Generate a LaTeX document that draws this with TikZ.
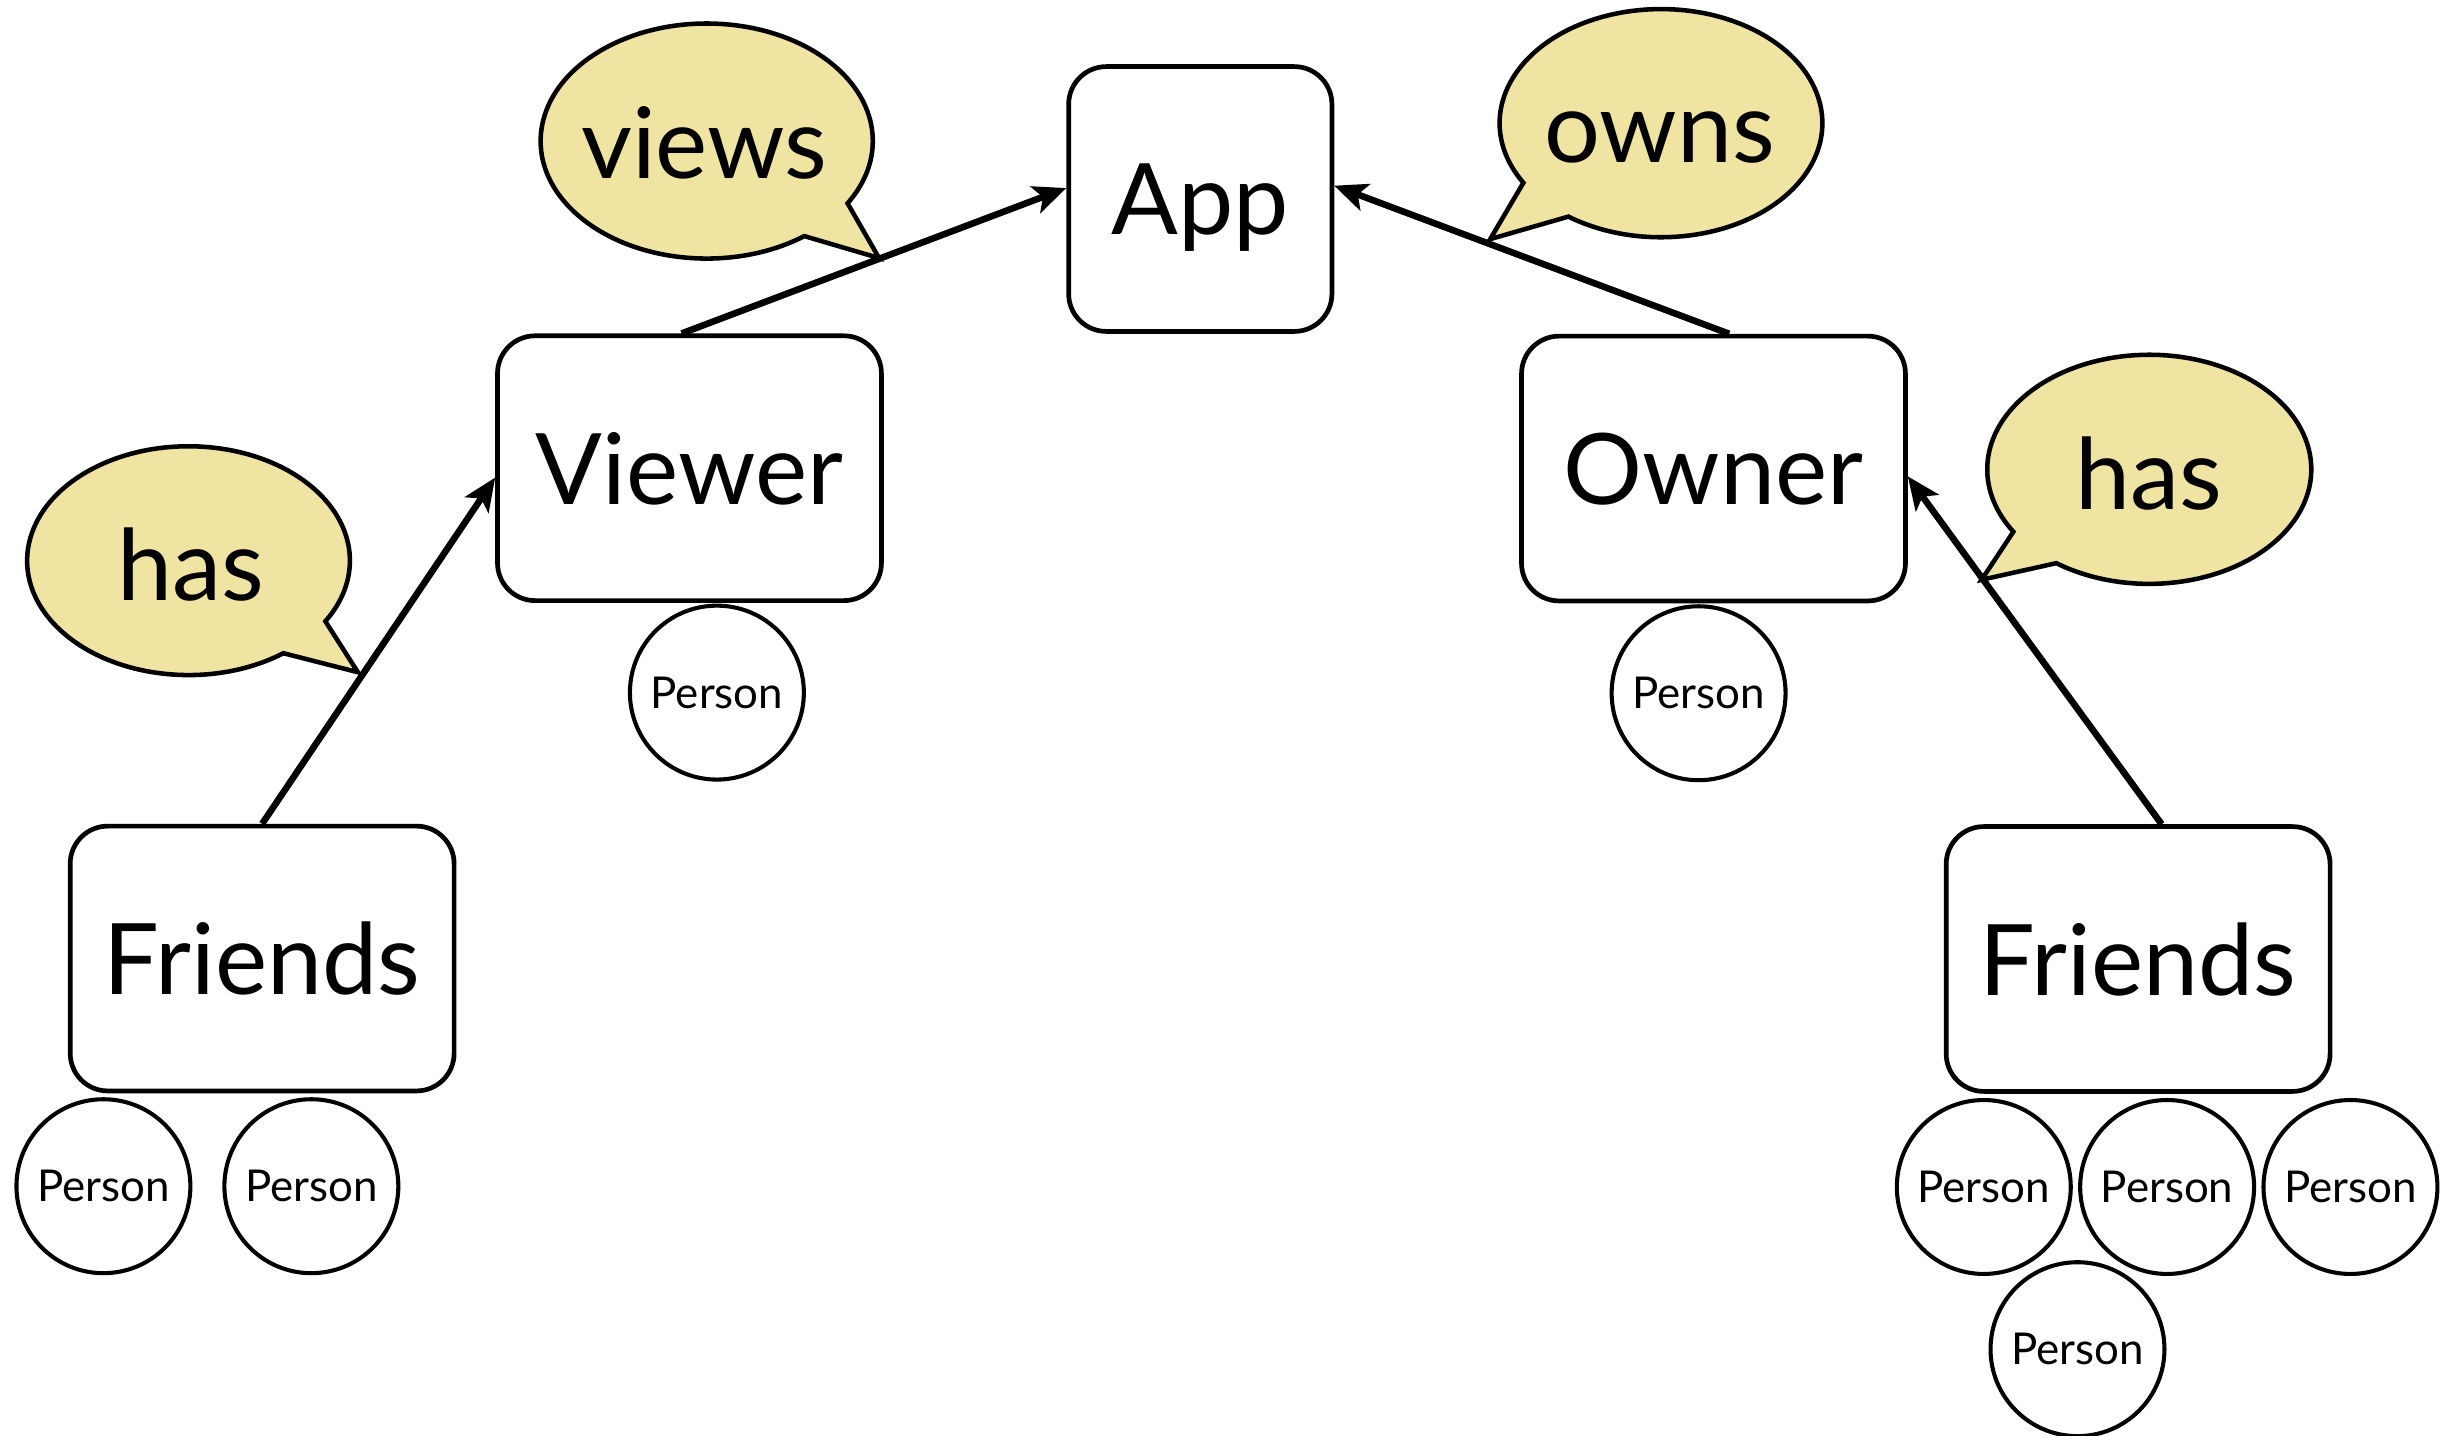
\documentclass[tikz,border=0pt]{standalone}
\usepackage{fontspec}
\setmainfont{Lato}
\usetikzlibrary{arrows.meta,calc}
\definecolor{bubble}{RGB}{240,228,162}
\begin{document}
\begin{tikzpicture}[x=1pt,y=-1pt,
  box/.style={draw,line width=3pt,rounded corners=24pt,minimum width=245pt,minimum height=169pt,inner sep=0pt,text depth=0pt,font=\fontsize{63}{70}\selectfont},
  appbox/.style={box,minimum width=168pt},
  person/.style={draw,circle,line width=2.6pt,minimum size=111pt,inner sep=0pt,font=\fontsize{28}{30}\selectfont},
  bub/.style={draw,fill=bubble,line width=2.9pt,line join=miter},
  lbl/.style={anchor=base,inner sep=0pt,font=\fontsize{63}{70}\selectfont},
  arr/.style={line width=4.2pt,-{Stealth[length=21pt,width=18pt,inset=5pt]}}]
\useasboundingbox (0,0) rectangle (1568,916);

% boxes
\node[appbox] (app) at (766,127) {App};
\node[box] (viewer) at (440,298.8) {Viewer};
\node[box] (owner) at (1093.5,299) {Owner};
\node[box] (friendsL) at (167.3,611.7) {Friends};
\node[box] (friendsR) at (1364.5,612) {Friends};

% persons
\node[person] (pV) at (457.5,442) {Person};
\node[person] (pO) at (1084,442.4) {Person};
\node[person] (pL1) at (66,757) {Person};
\node[person] (pL2) at (198.7,757) {Person};
\node[person] (pR1) at (1266,757.5) {Person};
\node[person] (pR2) at (1383,757.5) {Person};
\node[person] (pR3) at (1500,757.5) {Person};
\node[person] (pR4) at (1325.8,861) {Person};

% speech bubbles
\coordinate (cViews) at (451,90);
\coordinate (tViewsTip) at (561,164.7);
\draw[bub] (cViews) ++(-54:106pt and 75pt) arc[start angle=-54,end angle=-392,x radius=106pt,y radius=75pt] -- (tViewsTip) -- cycle;
\node[lbl] (lViews) at (449.5,114) {views};

\coordinate (cOwns) at (1060,78.6);
\coordinate (tOwnsTip) at (951,152.6);
\draw[bub] (cOwns) ++(-125:103pt and 72.8pt) arc[start angle=-125,end angle=211.5,x radius=103pt,y radius=72.8pt] -- (tOwnsTip) -- cycle;
\node[lbl] (lOwns) at (1059,103.8) {owns};

\coordinate (cHasL) at (120.3,357.8);
\coordinate (tHasLTip) at (228.4,429);
\draw[bub] (cHasL) ++(-54:103pt and 73pt) arc[start angle=-54,end angle=-392,x radius=103pt,y radius=73pt] -- (tHasLTip) -- cycle;
\node[lbl] (lHasL) at (122,383.4) {has};

\coordinate (cHasR) at (1371.6,299.5);
\coordinate (tHasRTip) at (1264.6,370);
\draw[bub] (cHasR) ++(-125:103.4pt and 73.1pt) arc[start angle=-125,end angle=213,x radius=103.4pt,y radius=73.1pt] -- (tHasRTip) -- cycle;
\node[lbl] (lHasR) at (1371.5,325.3) {has};

% connectors
\draw[arr] (friendsL.north) -- ($(viewer.west)+(0,6)$);
\draw[arr] ($(viewer.north)+(-5,0)$) -- ($(app.west)+(0,-7)$);
\draw[arr] ($(owner.north)+(10,0)$) -- ($(app.east)+(0,-8.5)$);
\draw[arr] ($(friendsR.north)+(15,0)$) -- ($(owner.east)+(0,5)$);
\end{tikzpicture}
\end{document}
